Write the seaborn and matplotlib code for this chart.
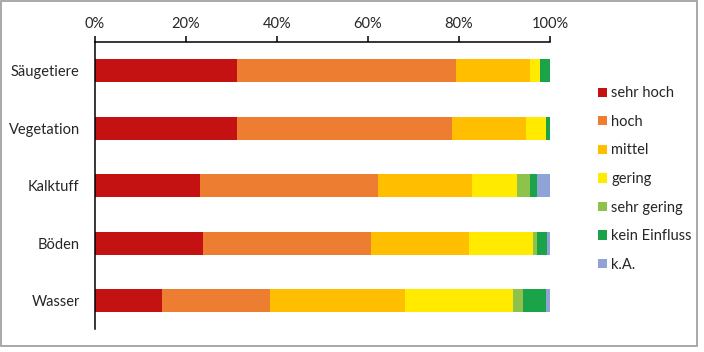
import numpy as np
import pandas as pd
import matplotlib
matplotlib.use("Agg")
import matplotlib.pyplot as plt
import seaborn as sns
from matplotlib.patches import Patch, Rectangle
from matplotlib.ticker import FixedLocator, PercentFormatter

# Anteile (%) je Schutzgut
regionen = ["Säugetiere", "Vegetation", "Kalktuff", "Böden", "Wasser"]
stufen = ["sehr hoch", "hoch", "mittel", "gering", "sehr gering", "kein Einfluss", "k.A."]
sehr_hoch = [31.1, 31.1, 23.1, 23.8, 14.8]
hoch = [48.2, 47.4, 39.2, 36.9, 23.7]
mittel = [16.2, 16.2, 20.6, 21.5, 29.6]
gering = [2.2, 4.4, 9.8, 14.1, 23.8]
sehr_gering = [0.0, 0.0, 2.9, 0.9, 2.2]
kein_einfluss = [2.3, 0.9, 1.5, 2.2, 5.0]
keine_angabe = [0.0, 0.0, 2.9, 0.6, 0.9]
farben = ["#C41212", "#ED7D31", "#FFBF00", "#FFEA00", "#8FC24A", "#1BA34A", "#8FA3D6"]

df = pd.DataFrame(
    dict(zip(stufen, [sehr_hoch, hoch, mittel, gering, sehr_gering, kein_einfluss, keine_angabe])),
    index=regionen,
)
kum = df.cumsum(axis=1)

sns.set_theme(style="white")
plt.rcParams["font.family"] = ["Lato", "DejaVu Sans"]
plt.rcParams["font.size"] = 10

fig = plt.figure(figsize=(7.04, 3.52), dpi=100)
ax = fig.add_axes([95 / 704, 1 - 329.5 / 352, 455 / 704, 287.8 / 352])

# gestapelt: die kumulierten Summen von hinten nach vorne zeichnen
for stufe, farbe in reversed(list(zip(stufen, farben))):
    sns.barplot(
        x=kum[stufe].values, y=regionen, order=regionen, orient="h",
        color=farbe, saturation=1, width=0.4, linewidth=0, ax=ax,
    )

ax.set_xlim(0, 100)
ax.set_ylim(4.5, -0.5)
ax.xaxis.tick_top()
ax.set_xticks([0, 20, 40, 60, 80, 100])
ax.xaxis.set_major_formatter(PercentFormatter(decimals=0))
ax.tick_params(axis="x", direction="out", length=4, width=1.1, pad=4,
               color="black", labelsize=10.5)

# Trennstriche zwischen den Kategorien, Beschriftung mittig
ax.yaxis.set_major_locator(FixedLocator(np.arange(-0.5, 5, 1)))
ax.yaxis.set_minor_locator(FixedLocator(np.arange(5)))
ax.set_yticklabels([], minor=False)
ax.set_yticklabels(regionen, minor=True)
ax.tick_params(axis="y", which="major", direction="out", length=4, width=1.1, color="black")
ax.tick_params(axis="y", which="minor", length=0, pad=11, labelsize=10.5)
ax.set_xlabel("")
ax.set_ylabel("")

for s in ["right", "bottom"]:
    ax.spines[s].set_visible(False)
for s in ["left", "top"]:
    ax.spines[s].set_color("black")
    ax.spines[s].set_linewidth(1.1)

handles = [Patch(facecolor=f, edgecolor="none", label=s) for s, f in zip(stufen, farben)]
fig.legend(
    handles=handles, loc="upper left", bbox_to_anchor=(591 / 704, 1 - 79 / 352),
    frameon=False, handlelength=0.6, handleheight=0.6, handletextpad=0.3,
    labelspacing=1.0, fontsize=10.5, borderpad=0,
)

# grauer Rahmen um die Grafik
fig.patches.append(Rectangle((1 / 704, 6 / 352), 696 / 704, 345 / 352,
                             transform=fig.transFigure, fill=False,
                             edgecolor="#9A9A9A", linewidth=1.2))

fig.savefig("out.png", dpi=100)
